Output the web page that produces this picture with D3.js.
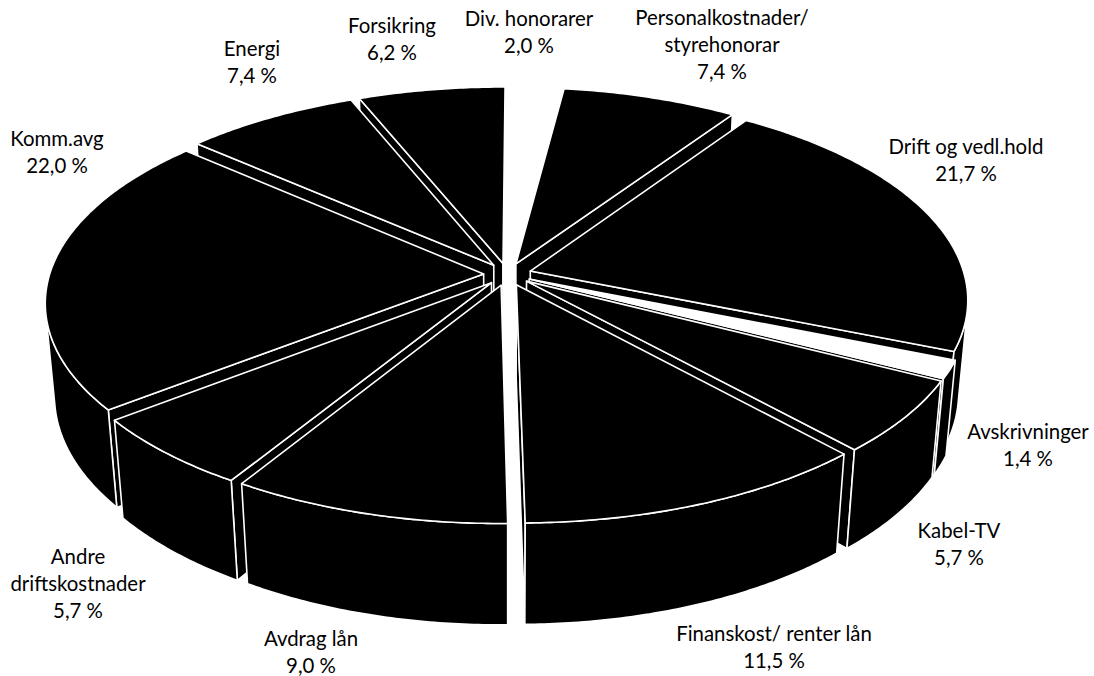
<!DOCTYPE html>
<html lang="nb">
<head>
<meta charset="utf-8">
<title>Kostnadsfordeling</title>
<script src="https://cdnjs.cloudflare.com/ajax/libs/d3/7.8.5/d3.min.js"></script>
<style>
  html, body { margin: 0; padding: 0; background: #fff; }
  svg { display: block; }
  text { font-family: Lato, "Open Sans", sans-serif; font-size: 20.4px; fill: #000; text-anchor: middle; }
</style>
</head>
<body>
<svg id="chart" width="1094" height="676"></svg>
<script>
// Cost categories, clockwise from twelve o'clock
const categories = ["Div. honorarer", "Personalkostnader/ styrehonorar", "Drift og vedl.hold",
  "Avskrivninger", "Kabel-TV", "Finanskost/ renter lån", "Avdrag lån",
  "Andre driftskostnader", "Komm.avg", "Energi", "Forsikring"];
const shares = [2.0, 7.4, 21.7, 1.4, 5.7, 11.5, 9.0, 5.7, 22.0, 7.4, 6.2];

// Slices left as open white wedges
const openSlices = ["Div. honorarer", "Avskrivninger"];
// Slices without any side walls
const wallless = ["Div. honorarer"];

// Label lines and their anchor points
const labelLines = [
  ["Div. honorarer", "2,0 %"],
  ["Personalkostnader/", "styrehonorar", "7,4 %"],
  ["Drift og vedl.hold", "21,7 %"],
  ["Avskrivninger", "1,4 %"],
  ["Kabel-TV", "5,7 %"],
  ["Finanskost/ renter lån", "11,5 %"],
  ["Avdrag lån", "9,0 %"],
  ["Andre", "driftskostnader", "5,7 %"],
  ["Komm.avg", "22,0 %"],
  ["Energi", "7,4 %"],
  ["Forsikring", "6,2 %"]
];
const labelX = [529, 722, 966, 1028, 959, 774, 311, 78, 57, 252, 392];
const labelY = [26, 25, 154, 439, 538, 641, 646, 564, 146, 56, 33];
const lineStep = 27;

// Perspective camera for the tilted disc
const cx = 507.5, cy = 274.3;
const scaleX = 434, scaleY = 203, wallDrop = 94;
const depthGain = 0.135, wallDepth = 0.02;
const explode = 0.055;
const rotation = 0.004;

function project(X, Y, bottom) {
  const w = 1 + depthGain * Y + (bottom ? wallDepth : 0);
  return [cx + scaleX * X / w, cy + (-scaleY * Y + (bottom ? wallDrop : 0)) / w];
}

function signedArea(pts) {
  let a = 0;
  pts.forEach((p, i) => {
    const q = pts[(i + 1) % pts.length];
    a += p[0] * q[1] - q[0] * p[1];
  });
  return a / 2;
}

const line = d3.line().curve(d3.curveLinearClosed);
const pieLayout = d3.pie().sort(null).startAngle(rotation).endAngle(2 * Math.PI + rotation).value(d => d.share);
const slices = pieLayout(categories.map((name, i) => ({ name, share: shares[i] })));

const svg = d3.select("#chart");
const pie = svg.append("g").attr("class", "pie");

slices.forEach(s => {
  const mid = (s.startAngle + s.endAngle) / 2;
  s.dx = explode * Math.sin(mid);
  s.dy = explode * Math.cos(mid);
  s.depth = Math.cos(mid);
  const n = Math.max(4, Math.ceil((s.endAngle - s.startAngle) / 0.01));
  s.rim = d3.range(n + 1).map(i => {
    const a = s.startAngle + (s.endAngle - s.startAngle) * i / n;
    return [Math.sin(a) + s.dx, Math.cos(a) + s.dy];
  });
  s.apex = [s.dx, s.dy];
});

// Farthest wedges first so that nearer ones cover them
slices.slice().sort((a, b) => d3.descending(a.depth, b.depth)).forEach(s => {
  const top = p => project(p[0], p[1], false);
  const bot = p => project(p[0], p[1], true);
  const topPoly = [s.apex, ...s.rim].map(top);
  const sign = Math.sign(signedArea(topPoly));
  const g = pie.append("g");
  const faces = (u, v) =>
    Math.sign(signedArea([top(v), top(u), bot(u), bot(v)])) === sign;

  if (!wallless.includes(s.data.name)) {
    const first = s.rim[0], last = s.rim[s.rim.length - 1];
    const radial = [[s.apex, first], [last, s.apex]];
    radial.filter(([u, v]) => faces(u, v)).forEach(([u, v]) => {
      g.append("path").attr("d", line([top(u), top(v), bot(v), bot(u)]));
    });
    const visible = [];
    for (let i = 0; i < s.rim.length - 1; i++) {
      if (faces(s.rim[i], s.rim[i + 1])) {
        if (!visible.length) visible.push(s.rim[i]);
        visible.push(s.rim[i + 1]);
      }
    }
    if (visible.length) {
      g.append("path").attr("d", line([...visible.map(top), ...visible.slice().reverse().map(bot)]));
    }
    g.selectAll("path").attr("fill", "#000").attr("stroke", "#fff")
      .attr("stroke-width", 1.6).attr("stroke-linejoin", "round");
  }

  g.append("path").attr("d", line(topPoly))
    .attr("fill", openSlices.includes(s.data.name) ? "#fff" : "#000")
    .attr("stroke", "#fff").attr("stroke-width", 1.6).attr("stroke-linejoin", "round");
});

// Category names with their shares
const labels = svg.append("g").attr("class", "labels");
labelLines.forEach((lines, i) => {
  const t = labels.append("text").attr("x", labelX[i]).attr("y", labelY[i]);
  lines.forEach((txt, j) => {
    t.append("tspan").attr("x", labelX[i]).attr("y", labelY[i] + j * lineStep).text(txt);
  });
});
</script>
</body>
</html>
